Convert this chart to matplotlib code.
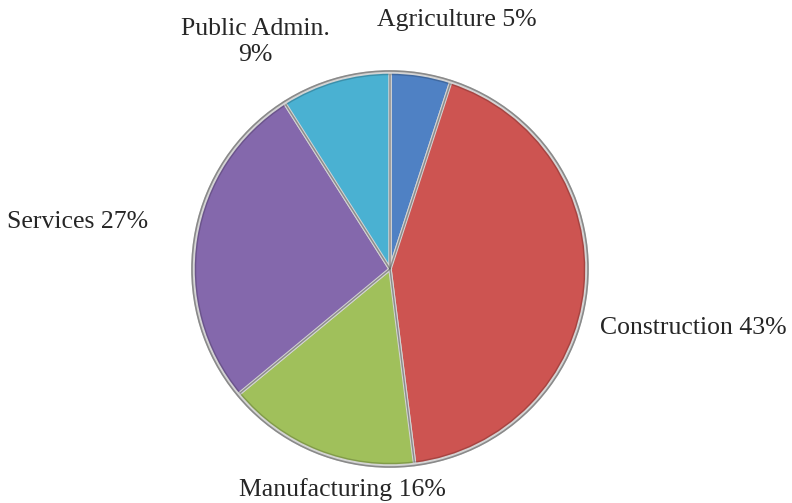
import matplotlib.pyplot as plt
from matplotlib.patches import Circle

sectors = ["Agriculture", "Construction", "Manufacturing", "Services", "Public Admin."]
shares = [5, 43, 16, 27, 9]
colors = ["#4F81C4", "#CD5451", "#A0C05B", "#8468AC", "#4AB1D2"]
label_text = ["Agriculture 5%", "Construction 43%", "Manufacturing 16%",
              "Services 27%", "Public Admin.\n9%"]
# label anchor points in figure pixels (from top-left)
label_pos = [(457, 20), (693, 328), (342, 490), (78, 222), (255, 42)]

W, H = 792, 503
fig = plt.figure(figsize=(W / 100, H / 100), dpi=100)
ax = fig.add_axes([0, 0, 1, 1])

cx, cy, r = 390, H - 269, 197
wedges, _ = ax.pie(shares, colors=colors, startangle=90, counterclock=False,
                   center=(cx, cy), radius=r, frame=True,
                   wedgeprops=dict(edgecolor="#d4d4d4", linewidth=2.5))
# darker inner outline per slice, a rough stand-in for the bevel
ax.pie(shares, colors=["none"] * len(shares), startangle=90, counterclock=False,
       center=(cx, cy), radius=r - 2.5, frame=True,
       wedgeprops=dict(edgecolor="#00000030", linewidth=1.0, fill=False))
ax.set_xlim(0, W)
ax.set_ylim(0, H)
ax.set_aspect("equal")
ax.axis("off")

# thin dark rim
ax.add_patch(Circle((cx, cy), r + 1, fill=False, edgecolor="#8a8a8a", linewidth=1.2))

for txt, (x, y) in zip(label_text, label_pos):
    ax.text(x, H - y, txt, ha="center", va="center", fontsize=18.5,
            family="Liberation Serif", color="#262626", linespacing=1.2)

fig.savefig("out.png", dpi=100)
